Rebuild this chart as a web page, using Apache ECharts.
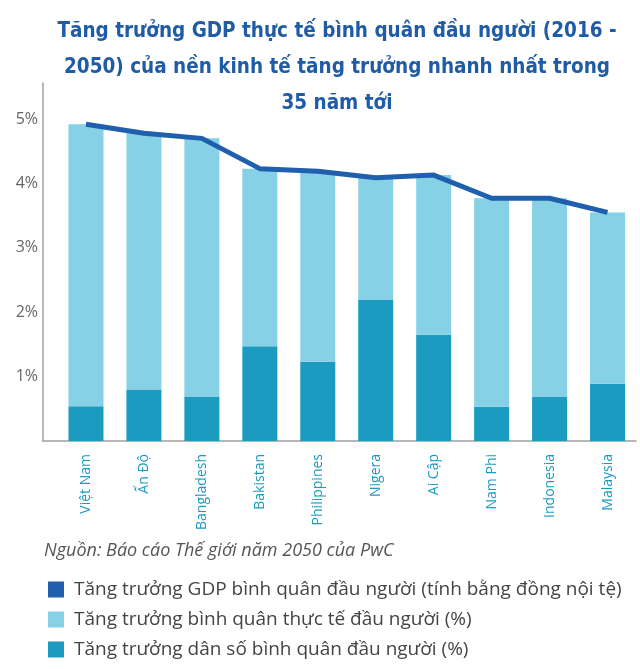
<!DOCTYPE html>
<html>
<head>
<meta charset="utf-8">
<script src="https://cdn.jsdelivr.net/npm/echarts@6/dist/echarts.min.js"></script>
<style>
html,body{margin:0;padding:0;background:#fff;}
#chart{width:640px;height:669px;}
</style>
</head>
<body>
<div id="chart"></div>
<script>
var categories = ['Việt Nam', 'Ấn Độ', 'Bangladesh', 'Bakistan', 'Philippines', 'Nigera', 'Ai Cập', 'Nam Phi', 'Indonesia', 'Malaysia'];
// Line: GDP per capita growth (local currency), %
var gdpGrowth = [4.92, 4.78, 4.70, 4.23, 4.19, 4.09, 4.13, 3.77, 3.77, 3.55];
// Light segment: real average growth per capita, %
var realGrowth = [4.38, 3.98, 4.01, 2.76, 2.96, 1.90, 2.48, 3.24, 3.08, 2.66];
// Dark segment: population growth, %
var popGrowth = [0.54, 0.80, 0.69, 1.47, 1.23, 2.19, 1.65, 0.53, 0.69, 0.89];
var yTicks = [0, 1, 2, 3, 4, 5];

var names = {
  gdp: 'Tăng trưởng GDP bình quân đầu người (tính bằng đồng nội tệ)',
  real: 'Tăng trưởng bình quân thực tế đầu người (%)',
  pop: 'Tăng trưởng dân số bình quân đầu người (%)'
};

var chart = echarts.init(document.getElementById('chart'), null, {renderer: 'canvas'});
var yMax = 5.56;
var option = {
  animation: false,
  backgroundColor: '#ffffff',
  title: {
    text: 'Tăng trưởng GDP thực tế bình quân đầu người (2016 -\n2050) của nền kinh tế tăng trưởng nhanh nhất trong\n35 năm tới',
    left: 332,
    top: 9,
    textAlign: 'center',
    textStyle: {
      fontFamily: '"DejaVu Sans Condensed", "Roboto"',
      fontWeight: 'bold',
      fontSize: 20.5,
      lineHeight: 36,
      color: '#1f5ca8'
    }
  },
  graphic: [{
    type: 'text',
    left: 44,
    top: 542,
    style: {
      text: 'Nguồn: Báo cáo Thế giới năm 2050 của PwC',
      font: 'italic 18px "Open Sans"',
      fill: '#555555'
    }
  }],
  legend: {
    orient: 'vertical',
    left: 43,
    top: 575,
    itemWidth: 16,
    itemHeight: 16,
    itemGap: 11,
    icon: 'rect',
    data: [names.gdp, names.real, names.pop],
    textStyle: {
      fontFamily: 'Open Sans',
      fontSize: 19,
      color: '#444444',
      padding: [0, 0, 0, 5]
    }
  },
  grid: [
    {left: 43, right: 4, top: 83, bottom: 228},
    {left: 57, right: 3.5, top: 83, bottom: 228}
  ],
  xAxis: [
    {
      gridIndex: 0, type: 'value', min: 0, max: 1,
      axisLine: {show: true, lineStyle: {color: '#a0a0a0', width: 1.5}},
      axisTick: {show: false}, axisLabel: {show: false}, splitLine: {show: false}
    },
    {
      gridIndex: 1, type: 'category', data: categories,
      axisLine: {show: false}, axisTick: {show: false}, splitLine: {show: false},
      axisLabel: {
        rotate: 90, margin: 13, color: '#1b9bc0',
        fontFamily: 'Open Sans', fontSize: 14, interval: 0
      }
    }
  ],
  yAxis: [
    {
      gridIndex: 0, type: 'value', min: yTicks[0], max: yMax, interval: 1,
      axisLine: {show: true, lineStyle: {color: '#a0a0a0', width: 1.5}},
      axisTick: {show: false}, splitLine: {show: false},
      axisLabel: {
        showMinLabel: false, showMaxLabel: false, margin: 5,
        formatter: '{value}%', color: '#666666',
        fontFamily: 'Open Sans', fontSize: 16
      }
    },
    {
      gridIndex: 1, type: 'value', min: yTicks[0], max: yMax,
      show: false
    }
  ],
  series: [
    {
      name: names.pop, type: 'bar', stack: 'g', xAxisIndex: 1, yAxisIndex: 1,
      data: popGrowth, barWidth: 35, itemStyle: {color: '#1b9bbf'}
    },
    {
      name: names.real, type: 'bar', stack: 'g', xAxisIndex: 1, yAxisIndex: 1,
      data: realGrowth, barWidth: 35, itemStyle: {color: '#86d1e6'}
    },
    {
      name: names.gdp, type: 'line', xAxisIndex: 1, yAxisIndex: 1,
      data: gdpGrowth, symbol: 'none', z: 5,
      lineStyle: {color: '#1f5fad', width: 5},
      itemStyle: {color: '#1f5fad'}
    }
  ]
};
chart.setOption(option);
</script>
</body>
</html>
